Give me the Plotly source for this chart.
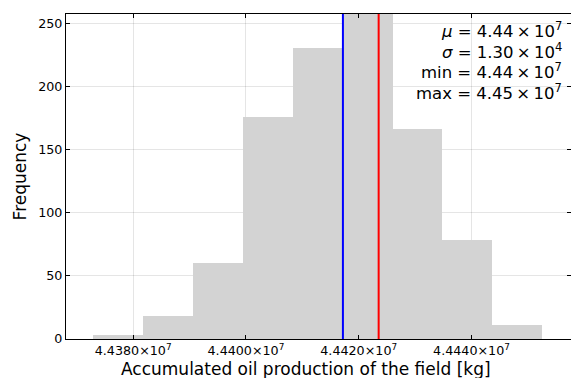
import plotly.graph_objects as go

# ---- data ----
bin_edges = [44372900, 44381750, 44390600, 44399450, 44408300,
             44417150, 44426000, 44434850, 44443700, 44452550]
counts = [3, 18, 60, 176, 230, 258, 166, 78, 11]
blue_line_x = 44417200
red_line_x = 44423540
x_tickvals = [44380000, 44400000, 44420000, 44440000]
x_ticktext = ["4.4380×10<sup>7</sup>", "4.4400×10<sup>7</sup>",
              "4.4420×10<sup>7</sup>", "4.4440×10<sup>7</sup>"]
y_tickvals = [0, 50, 100, 150, 200, 250]
stats_lines = ["<i>μ</i> = 4.44\u2009×\u200910<sup>7</sup>",
               "<i>σ</i> = 1.30\u2009×\u200910<sup>4</sup>",
               "min = 4.44\u2009×\u200910<sup>7</sup>",
               "max = 4.45\u2009×\u200910<sup>7</sup>"]
x_title = "Accumulated oil production of the field [kg]"
y_title = "Frequency"
x_range = [44368090, 44457650]
y_range = [0, 257.2]

centers = [(a + b) / 2 for a, b in zip(bin_edges[:-1], bin_edges[1:])]
widths = [b - a for a, b in zip(bin_edges[:-1], bin_edges[1:])]

FONT = "DejaVu Sans"
W, H = 571, 378
ML, MR, MT, MB = 66, 0, 14, 39
PW, PH = W - ML - MR, H - MT - MB

fig = go.Figure()
fig.add_trace(go.Bar(x=centers, y=counts, width=widths,
                     marker=dict(color="#d3d3d3", line=dict(width=0)),
                     showlegend=False, hoverinfo="skip"))
# invisible trace on secondary y for right-side mirror ticks
fig.add_trace(go.Scatter(x=[x_range[0]], y=[0], yaxis="y2", mode="markers",
                         marker=dict(opacity=0), showlegend=False, hoverinfo="skip"))

fig.add_shape(type="line", xref="x", yref="paper", x0=blue_line_x, x1=blue_line_x,
              y0=0, y1=1, line=dict(color="#0000ff", width=2))
fig.add_shape(type="line", xref="x", yref="paper", x0=red_line_x, x1=red_line_x,
              y0=0, y1=1, line=dict(color="#ff0000", width=2))

ys_px = [30, 50.7, 71.4, 92.1]
for txt, ypx in zip(stats_lines, ys_px):
    fig.add_annotation(text=txt, xref="paper", yref="paper",
                       x=(564 - ML) / PW, y=1 - (ypx - MT) / PH,
                       xanchor="right", yanchor="middle", showarrow=False,
                       font=dict(family=FONT, size=16.5, color="black"))

# x-axis title (centred like the reference)
fig.add_annotation(text=x_title, xref="paper", yref="paper",
                   x=(305.5 - ML) / PW, y=1 - (368.5 - MT) / PH,
                   xanchor="center", yanchor="middle", showarrow=False,
                   font=dict(family=FONT, size=17, color="black"))

fig.update_layout(
    width=W, height=H,
    margin=dict(l=ML, r=MR, t=MT, b=MB, pad=0),
    plot_bgcolor="white", paper_bgcolor="white",
    font=dict(family=FONT, color="black"),
    bargap=0,
    xaxis=dict(range=x_range, tickvals=x_tickvals, ticktext=x_ticktext,
               showgrid=True, gridcolor="rgba(0,0,0,0.1)", gridwidth=1,
               showline=True, linecolor="black", linewidth=1.2, mirror="ticks",
               ticks="inside", ticklen=4, tickcolor="black",
               tickfont=dict(size=12.7, family=FONT), zeroline=False),
    yaxis=dict(range=y_range, tickvals=y_tickvals,
               showgrid=True, gridcolor="rgba(0,0,0,0.1)", gridwidth=1,
               showline=True, linecolor="black", linewidth=1.2, mirror=False,
               ticks="inside", ticklen=4, tickcolor="black",
               tickfont=dict(size=12.7, family=FONT), zeroline=False,
               title=dict(text=y_title, font=dict(size=17, family=FONT), standoff=7)),
    yaxis2=dict(range=y_range, tickvals=y_tickvals, overlaying="y", side="right",
                showgrid=False, showline=False, ticks="inside", ticklen=4,
                tickcolor="black", showticklabels=False, zeroline=False),
)

fig.write_html("out.html")
